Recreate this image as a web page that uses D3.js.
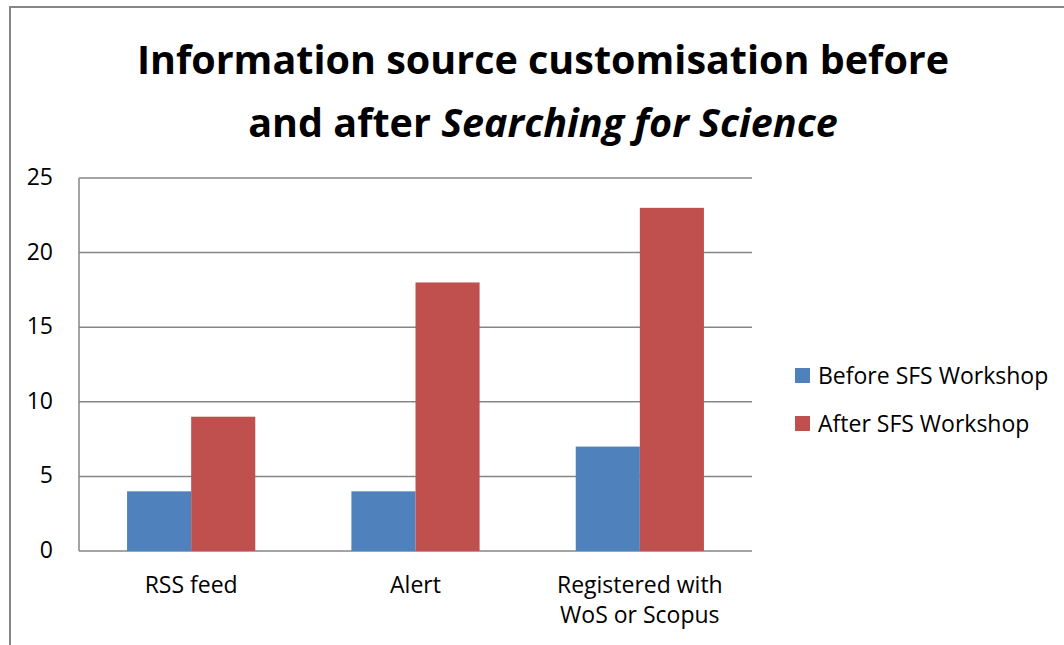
<!DOCTYPE html>
<html>
<head>
<meta charset="utf-8">
<script src="https://cdn.jsdelivr.net/npm/d3@7"></script>
<style>
  body { margin: 0; background: #fff; }
  text { font-family: "Open Sans", "Noto Sans", sans-serif; fill: #000; }
</style>
</head>
<body>
<svg id="chart"></svg>
<script>
// data
const categories = ['RSS feed', 'Alert', 'Registered with\nWoS or Scopus'];
const seriesNames = ['Before SFS Workshop', 'After SFS Workshop'];
const beforeValues = [4, 4, 7];
const afterValues = [9, 18, 23];
const yTicks = [0, 5, 10, 15, 20, 25];

const W = 1064, H = 645;
const plot = { left: 79, right: 752, top: 178, bottom: 551 };
const colors = ['#4F81BD', '#C0504D'];

const svg = d3.select('#chart').attr('width', W).attr('height', H);

// outer border (right/bottom run off the picture)
svg.append('rect')
  .attr('x', 10).attr('y', 7)
  .attr('width', W + 20).attr('height', H + 20)
  .attr('fill', 'none').attr('stroke', '#868686').attr('stroke-width', 2);

// title
const title = svg.append('text')
  .attr('text-anchor', 'middle')
  .style('font-size', '39.5px')
  .style('font-weight', 'bold');
title.append('tspan').attr('x', 543).attr('y', 74)
  .text('Information source customisation before');
const t2 = title.append('tspan').attr('x', 543).attr('y', 137);
t2.append('tspan').text('and after ');
t2.append('tspan').style('font-style', 'italic').text('Searching for Science');

// scales
const x0 = d3.scaleBand().domain(categories).range([plot.left, plot.right]).paddingInner(0).paddingOuter(0);
const bw = x0.bandwidth() / 3.5;
const y = d3.scaleLinear().domain([0, 25]).range([plot.bottom, plot.top]);

// gridlines
svg.append('g').selectAll('line')
  .data(yTicks)
  .enter().append('line')
    .attr('x1', plot.left).attr('x2', plot.right)
    .attr('y1', d => y(d)).attr('y2', d => y(d))
    .attr('stroke', '#868686').attr('stroke-width', 1.5);

// y axis line
svg.append('line')
  .attr('x1', plot.left).attr('x2', plot.left)
  .attr('y1', plot.top).attr('y2', plot.bottom)
  .attr('stroke', '#868686').attr('stroke-width', 1.5);

// y tick labels
svg.append('g').selectAll('text')
  .data(yTicks)
  .enter().append('text')
    .attr('x', 53)
    .attr('y', d => y(d) - 1)
    .attr('dy', '0.35em')
    .attr('text-anchor', 'end')
    .style('font-size', '23px')
    .text(d => d);

// bars
const seriesData = [beforeValues, afterValues];
seriesData.forEach((vals, s) => {
  svg.append('g').selectAll('rect')
    .data(vals)
    .enter().append('rect')
      .attr('x', (d, i) => x0(categories[i]) + x0.bandwidth() / 2 - bw + s * bw)
      .attr('y', d => y(d))
      .attr('width', bw)
      .attr('height', d => y(0) - y(d))
      .attr('fill', colors[s]);
});

// category labels
const catLabels = svg.append('g').selectAll('text')
  .data(categories)
  .enter().append('text')
    .attr('text-anchor', 'middle')
    .style('font-size', '23px');
catLabels.each(function (d) {
  const lines = d.split('\n');
  const cx = x0(d) + x0.bandwidth() / 2;
  lines.forEach((ln, i) => {
    d3.select(this).append('tspan')
      .attr('x', cx)
      .attr('y', 593 + i * 30)
      .text(ln);
  });
});

// legend
const legend = svg.append('g').selectAll('g')
  .data(seriesNames)
  .enter().append('g')
    .attr('transform', (d, i) => `translate(795,${368 + i * 48})`);
legend.append('rect')
  .attr('width', 15).attr('height', 15)
  .attr('fill', (d, i) => colors[i]);
legend.append('text')
  .attr('x', 23).attr('y', 7.5).attr('dy', '0.35em')
  .style('font-size', '23px')
  .text(d => d);
</script>
</body>
</html>
